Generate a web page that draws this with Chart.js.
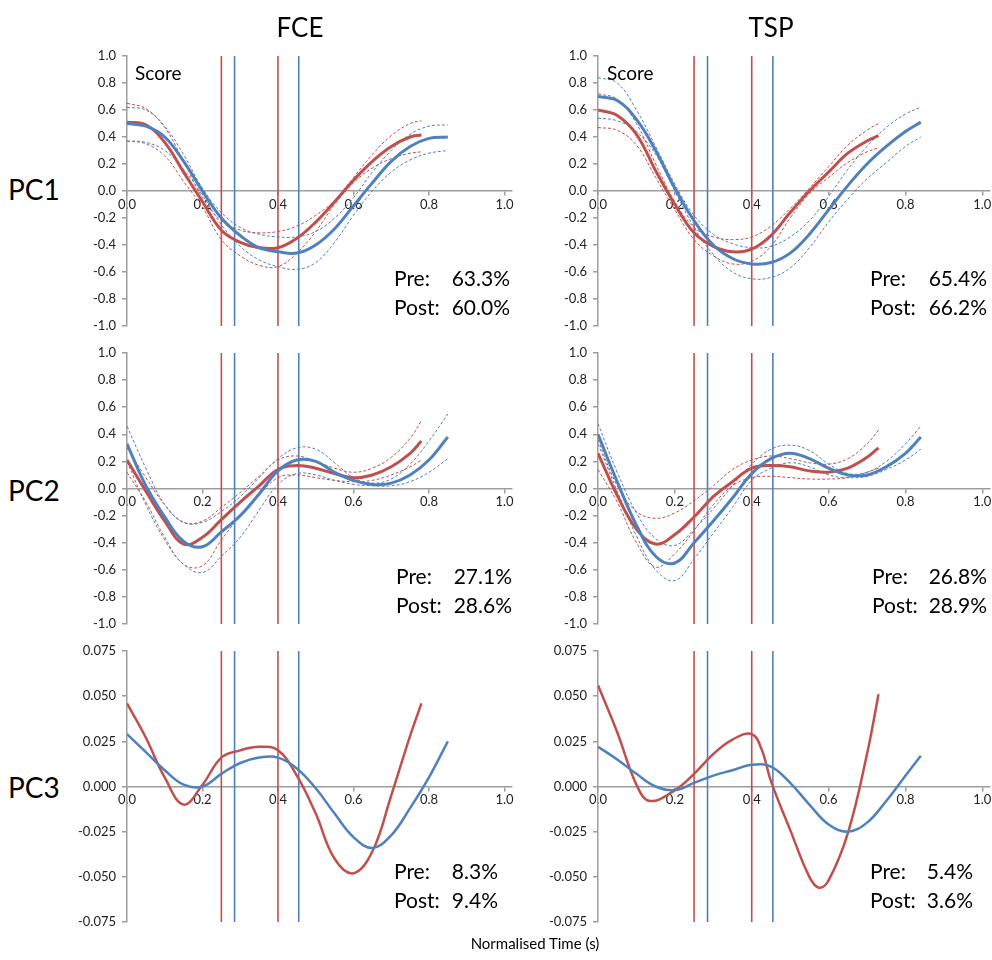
<!DOCTYPE html>
<html>
<head>
<meta charset="utf-8">
<script src="https://cdn.jsdelivr.net/npm/chart.js@4.4.1/dist/chart.umd.min.js"></script>
<style>
  html, body { margin: 0; padding: 0; background: #fff; overflow: hidden; }
  body { width: 992px; height: 960px; position: relative; font-family: Lato, "Open Sans", sans-serif; color: #000; }
  canvas { position: absolute; }
  .lbl { position: absolute; white-space: nowrap; line-height: 1; }
  .stats { position: absolute; font-size: 21px; line-height: 29px; border-collapse: collapse; }
  .stats td { padding: 0; white-space: nowrap; }
</style>
</head>
<body>
<script>
// ---- data ----
const xTicks = [0, 0.2, 0.4, 0.6, 0.8, 1.0];
const unitTicks = [-1, -0.8, -0.6, -0.4, -0.2, 0, 0.2, 0.4, 0.6, 0.8, 1];
const pc3Ticks = [-0.075, -0.05, -0.025, 0, 0.025, 0.05, 0.075];

const redMarks = [0.25, 0.40];
const blueMarks = [0.285, 0.455];

const fceRedX = [0, 0.05, 0.1, 0.15, 0.2, 0.25, 0.3, 0.35, 0.4, 0.45, 0.5, 0.55, 0.6, 0.65, 0.7, 0.75, 0.78];
const fceBlueX = [0, 0.05, 0.1, 0.15, 0.2, 0.25, 0.3, 0.35, 0.4, 0.45, 0.5, 0.55, 0.6, 0.65, 0.7, 0.75, 0.8, 0.85];
const tspRedX = [0, 0.05, 0.1, 0.15, 0.2, 0.25, 0.3, 0.35, 0.4, 0.45, 0.5, 0.55, 0.6, 0.65, 0.7, 0.73];
const tspBlueX = [0, 0.05, 0.1, 0.15, 0.2, 0.25, 0.3, 0.35, 0.4, 0.45, 0.5, 0.55, 0.6, 0.65, 0.7, 0.75, 0.8, 0.84];
const tspRedX3 = [0, 0.05, 0.1, 0.135, 0.2, 0.25, 0.3, 0.35, 0.4, 0.425, 0.45, 0.5, 0.55, 0.575, 0.6, 0.65, 0.7, 0.73];

// PC1 FCE
const fce1Red   = [0.51, 0.49, 0.36, 0.14, -0.08, -0.29, -0.38, -0.42, -0.42, -0.35, -0.23, -0.08, 0.08, 0.22, 0.33, 0.40, 0.415];
const fce1RedHi = [0.65, 0.61, 0.47, 0.22, -0.05, -0.22, -0.29, -0.31, -0.30, -0.26, -0.18, -0.07, 0.10, 0.27, 0.41, 0.50, 0.52];
const fce1RedLo = [0.37, 0.35, 0.26, 0.07, -0.12, -0.36, -0.48, -0.55, -0.56, -0.46, -0.30, -0.10, 0.06, 0.17, 0.24, 0.28, 0.29];
const fce1Blue   = [0.50, 0.48, 0.40, 0.22, 0.00, -0.20, -0.33, -0.42, -0.45, -0.46, -0.40, -0.28, -0.11, 0.06, 0.22, 0.33, 0.39, 0.40];
const fce1BlueHi = [0.62, 0.60, 0.48, 0.27, 0.02, -0.16, -0.27, -0.32, -0.34, -0.34, -0.30, -0.20, -0.05, 0.14, 0.30, 0.42, 0.48, 0.49];
const fce1BlueLo = [0.37, 0.36, 0.30, 0.16, -0.03, -0.25, -0.41, -0.51, -0.56, -0.58, -0.53, -0.38, -0.18, 0.00, 0.14, 0.23, 0.28, 0.30];

// PC1 TSP
const tsp1Red   = [0.60, 0.56, 0.42, 0.15, -0.10, -0.31, -0.41, -0.45, -0.43, -0.33, -0.16, 0.00, 0.14, 0.28, 0.37, 0.41];
const tsp1RedHi = [0.72, 0.68, 0.50, 0.20, -0.08, -0.27, -0.34, -0.36, -0.34, -0.26, -0.13, 0.02, 0.18, 0.34, 0.45, 0.50];
const tsp1RedLo = [0.47, 0.45, 0.34, 0.10, -0.14, -0.36, -0.48, -0.54, -0.52, -0.41, -0.20, -0.02, 0.10, 0.21, 0.29, 0.32];
const tsp1Blue   = [0.70, 0.67, 0.53, 0.30, 0.02, -0.22, -0.40, -0.50, -0.54, -0.53, -0.46, -0.32, -0.14, 0.04, 0.20, 0.33, 0.44, 0.51];
const tsp1BlueHi = [0.84, 0.80, 0.60, 0.33, 0.05, -0.18, -0.32, -0.39, -0.42, -0.41, -0.34, -0.22, -0.04, 0.16, 0.33, 0.47, 0.57, 0.62];
const tsp1BlueLo = [0.54, 0.52, 0.44, 0.27, 0.00, -0.27, -0.47, -0.60, -0.65, -0.64, -0.57, -0.42, -0.23, -0.06, 0.09, 0.21, 0.33, 0.40];

// PC2 FCE
const fce2Red   = [0.21, -0.02, -0.24, -0.41, -0.36, -0.23, -0.10, 0.02, 0.14, 0.17, 0.15, 0.11, 0.08, 0.10, 0.16, 0.26, 0.35];
const fce2RedHi = [0.30, 0.08, -0.12, -0.25, -0.24, -0.14, -0.03, 0.09, 0.21, 0.24, 0.20, 0.15, 0.12, 0.15, 0.23, 0.37, 0.50];
const fce2RedLo = [0.12, -0.10, -0.36, -0.56, -0.57, -0.38, -0.20, -0.05, 0.08, 0.10, 0.08, 0.06, 0.05, 0.06, 0.10, 0.16, 0.21];
const fce2Blue   = [0.33, 0.02, -0.21, -0.39, -0.43, -0.32, -0.20, -0.04, 0.13, 0.21, 0.20, 0.12, 0.06, 0.03, 0.04, 0.10, 0.21, 0.38];
const fce2BlueHi = [0.46, 0.15, -0.12, -0.25, -0.25, -0.17, -0.06, 0.08, 0.22, 0.30, 0.29, 0.19, 0.08, 0.04, 0.07, 0.18, 0.35, 0.55];
const fce2BlueLo = [0.20, -0.12, -0.38, -0.56, -0.62, -0.50, -0.36, -0.16, 0.03, 0.11, 0.10, 0.06, 0.03, 0.02, 0.02, 0.05, 0.12, 0.22];

// PC2 TSP
const tsp2Red   = [0.26, -0.05, -0.30, -0.41, -0.34, -0.21, -0.06, 0.05, 0.15, 0.17, 0.16, 0.13, 0.12, 0.15, 0.23, 0.30];
const tsp2RedHi = [0.36, 0.02, -0.17, -0.22, -0.18, -0.09, 0.02, 0.14, 0.21, 0.24, 0.22, 0.19, 0.18, 0.22, 0.33, 0.43];
const tsp2RedLo = [0.14, -0.10, -0.40, -0.58, -0.48, -0.31, -0.12, 0.02, 0.08, 0.09, 0.08, 0.07, 0.07, 0.08, 0.12, 0.15];
const tsp2Blue   = [0.40, 0.05, -0.27, -0.50, -0.55, -0.40, -0.24, -0.07, 0.11, 0.22, 0.26, 0.22, 0.15, 0.10, 0.10, 0.16, 0.26, 0.38];
const tsp2BlueHi = [0.48, 0.12, -0.18, -0.37, -0.42, -0.30, -0.15, 0.02, 0.18, 0.29, 0.32, 0.28, 0.18, 0.11, 0.12, 0.20, 0.33, 0.46];
const tsp2BlueLo = [0.33, -0.02, -0.35, -0.60, -0.68, -0.52, -0.33, -0.14, 0.06, 0.15, 0.19, 0.16, 0.10, 0.08, 0.09, 0.14, 0.21, 0.29];

// PC3
const fce3Red  = [0.046, 0.027, 0.005, -0.010, 0.001, 0.016, 0.020, 0.022, 0.020, 0.006, -0.015, -0.040, -0.048, -0.036, -0.005, 0.028, 0.046];
const fce3Blue = [0.029, 0.019, 0.009, 0.001, 0.000, 0.007, 0.013, 0.016, 0.016, 0.010, -0.001, -0.015, -0.028, -0.034, -0.027, -0.012, 0.005, 0.025];
const tsp3Red  = [0.056, 0.030, 0.001, -0.008, -0.002, 0.007, 0.018, 0.026, 0.029, 0.021, 0.003, -0.024, -0.050, -0.056, -0.052, -0.026, 0.018, 0.051];
const tsp3Blue = [0.022, 0.015, 0.007, 0.000, -0.002, 0.002, 0.006, 0.009, 0.012, 0.011, 0.002, -0.010, -0.021, -0.025, -0.020, -0.008, 0.006, 0.017];

const preShare  = [63.3, 65.4, 27.1, 26.8, 8.3, 5.4];
const postShare = [60.0, 66.2, 28.6, 28.9, 9.4, 3.6];

// ---- drawing ----
const RED = '#C0504D', BLUE = '#4F81BD', AXIS = '#9d9d9d';
const FONT = 'Lato, "Open Sans", sans-serif';

const colAxis = [127, 598];
const colUnit = [377, 384];
const rowTop = [56, 353, 651];
const rowBottom = [326, 624, 922];

function curve(xs, ys, color, width, dash) {
  return {
    data: xs.map((x, i) => ({ x: x, y: ys[i] })),
    borderColor: color, borderWidth: width, borderDash: dash || [],
    pointRadius: 0, fill: false, tension: 0.4
  };
}
function mark(x, color, lo, hi) {
  return { data: [{ x: x, y: lo }, { x: x, y: hi }], borderColor: color, borderWidth: 1.6, pointRadius: 0, tension: 0 };
}

function panel(col, row, sets, yTicks, digits) {
  const yW = 50, padT = 18, padB = 18, padR = 12;
  const top = rowTop[row], bottom = rowBottom[row];
  const cv = document.createElement('canvas');
  cv.width = yW + Math.round(colUnit[col] * 1.02) + padR;
  cv.height = bottom - top + padT + padB;
  cv.style.left = (colAxis[col] - yW) + 'px';
  cv.style.top = (top - padT) + 'px';
  document.body.appendChild(cv);

  const lo = yTicks[0], hi = yTicks[yTicks.length - 1];
  redMarks.forEach(x => sets.push(mark(x, RED, lo, hi)));
  blueMarks.forEach(x => sets.push(mark(x, BLUE, lo, hi)));

  new Chart(cv, {
    type: 'line',
    data: { datasets: sets },
    options: {
      responsive: false, animation: false, devicePixelRatio: 1,
      layout: { padding: { left: 0, top: padT, right: padR, bottom: padB } },
      plugins: { legend: { display: false }, tooltip: { enabled: false } },
      scales: {
        x: {
          type: 'linear', min: 0, max: 1.02, position: { y: 0 },
          afterBuildTicks: s => { s.ticks = xTicks.map(v => ({ value: v })); },
          grid: { drawOnChartArea: false, tickLength: 4, color: AXIS, lineWidth: 1.5 },
          border: { color: AXIS, width: 1.5 },
          ticks: { padding: 2, color: '#222', autoSkip: false, maxRotation: 0,
                   font: { family: FONT, size: 13 }, callback: v => v.toFixed(1) }
        },
        y: {
          type: 'linear', min: lo, max: hi, position: 'left',
          afterBuildTicks: s => { s.ticks = yTicks.map(v => ({ value: v })); },
          afterFit: s => { s.width = yW; },
          grid: { drawOnChartArea: false, tickLength: 5, color: AXIS, lineWidth: 1.5 },
          border: { color: AXIS, width: 1.5 },
          ticks: { padding: 6, color: '#222', autoSkip: false,
                   font: { family: FONT, size: 13 }, callback: v => v.toFixed(digits) }
        }
      }
    }
  });
}

function withBands(redX, blueX, r, rHi, rLo, b, bHi, bLo) {
  return [
    curve(blueX, b, BLUE, 3),
    curve(redX, r, RED, 3),
    curve(blueX, bHi, BLUE, 1, [3, 2]),
    curve(blueX, bLo, BLUE, 1, [3, 2]),
    curve(redX, rHi, RED, 1, [3, 2]),
    curve(redX, rLo, RED, 1, [3, 2])
  ];
}

panel(0, 0, withBands(fceRedX, fceBlueX, fce1Red, fce1RedHi, fce1RedLo, fce1Blue, fce1BlueHi, fce1BlueLo), unitTicks, 1);
panel(1, 0, withBands(tspRedX, tspBlueX, tsp1Red, tsp1RedHi, tsp1RedLo, tsp1Blue, tsp1BlueHi, tsp1BlueLo), unitTicks, 1);
panel(0, 1, withBands(fceRedX, fceBlueX, fce2Red, fce2RedHi, fce2RedLo, fce2Blue, fce2BlueHi, fce2BlueLo), unitTicks, 1);
panel(1, 1, withBands(tspRedX, tspBlueX, tsp2Red, tsp2RedHi, tsp2RedLo, tsp2Blue, tsp2BlueHi, tsp2BlueLo), unitTicks, 1);
panel(0, 2, [curve(fceBlueX, fce3Blue, BLUE, 2.5), curve(fceRedX, fce3Red, RED, 2.5)], pc3Ticks, 3);
panel(1, 2, [curve(tspBlueX, tsp3Blue, BLUE, 2.5), curve(tspRedX3, tsp3Red, RED, 2.5)], pc3Ticks, 3);

// ---- text ----
function label(text, x, y, size, align) {
  const d = document.createElement('div');
  d.className = 'lbl';
  d.textContent = text;
  d.style.fontSize = size + 'px';
  d.style.left = x + 'px';
  d.style.top = y + 'px';
  const tx = align === 'center' ? '-50%' : '0';
  d.style.transform = 'translate(' + tx + ', -50%)';
  document.body.appendChild(d);
}
label('FCE', 300, 27, 26, 'center');
label('TSP', 771, 27, 26, 'center');
label('PC1', 8, 189, 28, 'left');
label('PC2', 8, 490, 28, 'left');
label('PC3', 8, 787, 28, 'left');
label('Score', 135, 72, 19, 'left');
label('Score', 607, 72, 19, 'left');
label('Normalised Time (s)', 535, 943, 15, 'center');

const statBoxes = [[394, 510, 277], [870, 987, 277], [396, 512, 575], [872, 987, 575], [394, 498, 870], [870, 973, 870]];
statBoxes.forEach((b, i) => {
  const t = document.createElement('table');
  t.className = 'stats';
  t.style.left = b[0] + 'px';
  t.style.top = (b[2] - 14.5) + 'px';
  t.style.width = (b[1] - b[0]) + 'px';
  t.innerHTML = '<tr><td>Pre:</td><td style="text-align:right">' + preShare[i].toFixed(1) + '%</td></tr>' +
                '<tr><td>Post:</td><td style="text-align:right">' + postShare[i].toFixed(1) + '%</td></tr>';
  document.body.appendChild(t);
});
</script>
</body>
</html>
